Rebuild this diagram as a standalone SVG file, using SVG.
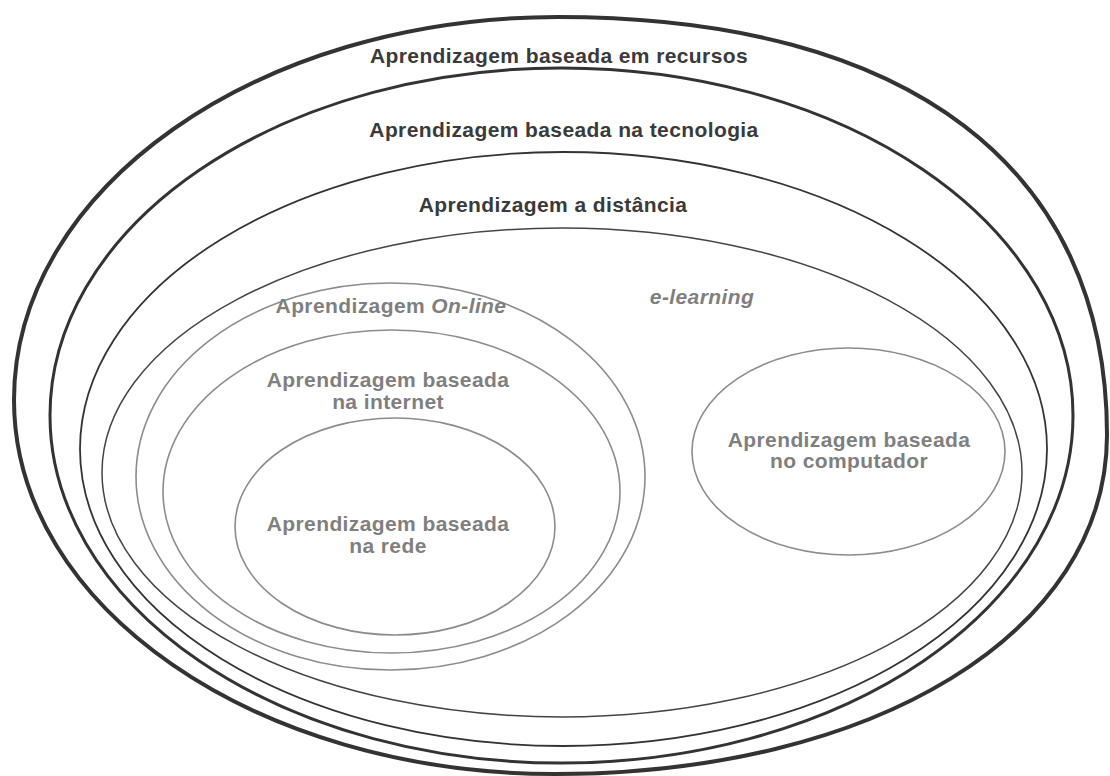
<svg xmlns="http://www.w3.org/2000/svg" width="1110" height="776" viewBox="0 0 1110 776">
<style>
.ring{fill:none}
.dark{stroke:#333}
.grey{stroke:#8c8c8c;stroke-width:1.6}
.t{font-family:"Liberation Sans",Arial,sans-serif;font-size:21px;font-weight:bold;letter-spacing:0.4px;text-anchor:middle}
.tb{fill:#3a3a3a}
.tg{fill:#7f7f7f}
.it{font-style:italic}
</style>
<rect width="1110" height="776" fill="#fff"/>
<g id="recursos">
<path class="ring dark" stroke-width="4" d="M558,17 C909,17 1107,168 1107,435 C1107,632 875,774 555,774 C256,774 14,607 14,400 C14,188 258,17 558,17 Z"/>
<text class="t tb" x="559" y="63">Aprendizagem baseada em recursos</text>
</g>
<g id="tecnologia">
<ellipse class="ring dark" cx="561.5" cy="415.5" rx="511.5" ry="347.5" stroke-width="3"/>
<text class="t tb" x="564" y="137">Aprendizagem baseada na tecnologia</text>
</g>
<g id="distancia">
<ellipse class="ring dark" cx="563.5" cy="449" rx="483.5" ry="297" stroke-width="1.8"/>
<text class="t tb" x="553" y="212">Aprendizagem a distância</text>
</g>
<g id="elearning">
<ellipse class="ring" stroke="#444" stroke-width="1.5" cx="562" cy="472.5" rx="460" ry="244.5"/>
<text class="t tg it" x="702" y="304">e-learning</text>
</g>
<g id="online">
<ellipse class="ring grey" cx="390.5" cy="476.5" rx="254.5" ry="193.5"/>
<text class="t tg" x="391" y="313">Aprendizagem <tspan class="it">On-line</tspan></text>
</g>
<g id="internet">
<ellipse class="ring grey" cx="391.5" cy="491.5" rx="228.5" ry="161.5"/>
<text class="t tg" x="388" y="387">Aprendizagem baseada</text>
<text class="t tg" x="388" y="409">na internet</text>
</g>
<g id="rede">
<ellipse class="ring grey" cx="395" cy="526.5" rx="160" ry="108.5"/>
<text class="t tg" x="388" y="531">Aprendizagem baseada</text>
<text class="t tg" x="388" y="553">na rede</text>
</g>
<g id="computador">
<ellipse class="ring grey" cx="848.5" cy="451.5" rx="156.5" ry="103.5"/>
<text class="t tg" x="849" y="447">Aprendizagem baseada</text>
<text class="t tg" x="849" y="468">no computador</text>
</g>
<g id="connectors"/>
</svg>
